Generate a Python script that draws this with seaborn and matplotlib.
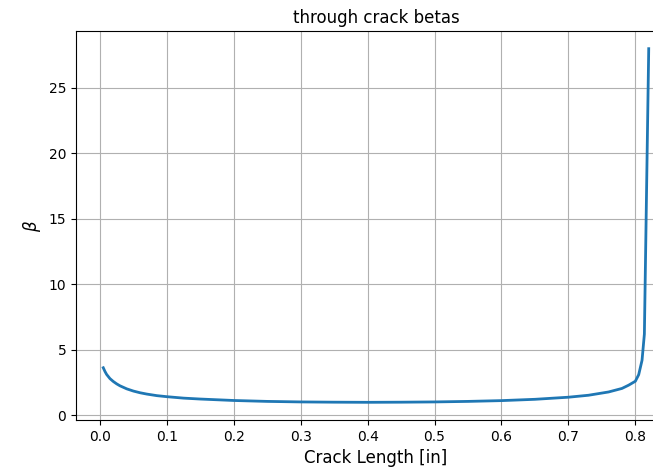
#Libraries
import matplotlib
matplotlib.use('Agg')
import seaborn as sns
import matplotlib.pyplot as plt

#Values
crack_length = [0.005, 0.0075, 0.01, 0.015, 0.02, 0.025, 0.03, 0.04, 0.05, 0.06,
                0.07, 0.085, 0.10, 0.125, 0.15, 0.20, 0.25, 0.30, 0.35, 0.40,
                0.45, 0.50, 0.55, 0.60, 0.65, 0.70, 0.73, 0.76, 0.78, 0.79,
                0.80, 0.805, 0.81, 0.8135, 0.82]
beta = [3.63, 3.35, 3.12, 2.80, 2.58, 2.40, 2.25, 2.02, 1.85, 1.72,
        1.62, 1.50, 1.42, 1.31, 1.24, 1.13, 1.06, 1.02, 1.00, 0.99,
        1.00, 1.02, 1.06, 1.12, 1.22, 1.38, 1.53, 1.78, 2.05, 2.30,
        2.60, 3.10, 4.20, 6.20, 28.0]

x_ticks = [0.0, 0.1, 0.2, 0.3, 0.4, 0.5, 0.6, 0.7, 0.8]
y_ticks = [0, 5, 10, 15, 20, 25]

#Plot
fig = plt.figure(figsize=(6.53, 4.75), dpi=100)
# axes run past the right edge, as in the cropped reference
ax = fig.add_axes([76 / 653, 55 / 475, 600 / 653, 389 / 475])

sns.lineplot(x=crack_length, y=beta, ax=ax, color='#1f77b4', linewidth=2)

ax.set_xticks(x_ticks)
ax.set_yticks(y_ticks)
ax.tick_params(labelsize=10)
ax.set_title('through crack betas', fontsize=12)
ax.set_xlabel('Crack Length [in]', fontsize=12)
ax.set_ylabel(r'$\beta$', fontsize=12)
ax.grid(True)

fig.savefig('out.png', dpi=100)
